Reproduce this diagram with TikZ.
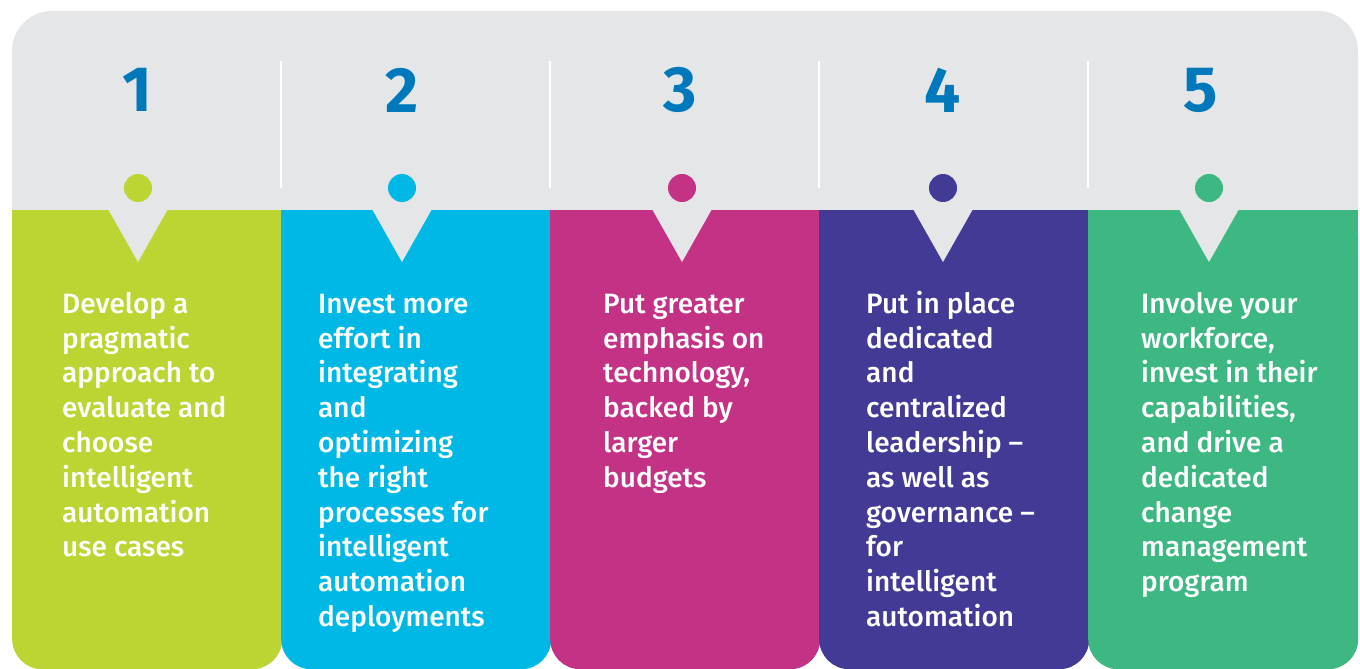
\documentclass[tikz,border=0pt]{standalone}
\usepackage{fontspec}
\setmainfont{Fira Sans}
\newfontfamily\medfont{Fira Sans Medium}[Ligatures=TeX]
\newcommand{\tstrut}{\rule{0pt}{24pt}}
\definecolor{bggray}{HTML}{E5E6E8}
\definecolor{cgreen}{HTML}{BCD532}
\definecolor{ccyan}{HTML}{00B8E5}
\definecolor{cmagenta}{HTML}{C43285}
\definecolor{cpurple}{HTML}{433A96}
\definecolor{cteal}{HTML}{3DB883}
\definecolor{numblue}{HTML}{0079BC}
\begin{document}
\begin{tikzpicture}[x=1pt,y=-1pt]
\useasboundingbox (0,0) rectangle (1360,669);
% grey header
\fill[bggray, rounded corners=40pt] (12,11) rectangle (1358,300);

\begin{scope}[every node/.style={rectangle,rounded corners=30pt,anchor=north west,inner sep=0pt,minimum width=270pt,minimum height=459pt}]
    \node[fill=cgreen]   (P1) at (12,210)   {};
    \node[fill=ccyan]    (P2) at (281,210)  {};
    \node[fill=cmagenta] (P3) at (550,210)  {};
    \node[fill=cpurple]  (P4) at (819,210)  {};
    \node[fill=cteal]    (P5) at (1088,210) {};
\end{scope}

% square off the top corners
\fill[cgreen]   (12,210)   rectangle (282,260);
\fill[ccyan]    (281,210)  rectangle (551,260);
\fill[cmagenta] (550,210)  rectangle (820,260);
\fill[cpurple]  (819,210)  rectangle (1089,260);
\fill[cteal]    (1088,210) rectangle (1358,260);

% notches
\foreach \x in {138,402,682,943,1209}
    \fill[bggray] (\x-30,209) -- (\x+30,209) -- (\x,262) -- cycle;

% dividers
\foreach \x in {281,550,819,1088}
    \draw[white, line width=2.2pt] (\x,61) -- (\x,188);

\begin{scope}[every node/.style={circle,inner sep=0pt,minimum size=28pt}]
    \node[fill=cgreen]   (D1) at (138,188)  {};
    \node[fill=ccyan]    (D2) at (402,188)  {};
    \node[fill=cmagenta] (D3) at (682,188)  {};
    \node[fill=cpurple]  (D4) at (943,188)  {};
    \node[fill=cteal]    (D5) at (1209,188) {};
\end{scope}

\begin{scope}[every node/.style={text=numblue,inner sep=0pt,font=\fontsize{64}{64}\selectfont\bfseries}]
    \node (N1) at (137,90)  {1};
    \node (N2) at (402,90)  {2};
    \node (N3) at (680,90)  {3};
    \node (N4) at (943,90)  {4};
    \node (N5) at (1201,90) {5};
\end{scope}

\begin{scope}[every node/.style={anchor=north west,inner sep=0pt,align=left,text=white,font=\medfont\fontsize{28}{34.8}\selectfont}]
    \node (T1) at (62,289)   {\tstrut Develop a\\pragmatic\\approach to\\evaluate and\\choose\\intelligent\\automation\\use cases};
    \node (T2) at (318,289)  {\tstrut Invest more\\effort in\\integrating\\and\\optimizing\\the right\\processes for\\intelligent\\automation\\deployments};
    \node (T3) at (603,289)  {\tstrut Put greater\\emphasis on\\technology,\\backed by\\larger\\budgets};
    \node (T4) at (866,289)  {\tstrut Put in place\\dedicated\\and\\centralized\\leadership –\\as well as\\governance –\\for\\intelligent\\automation};
    \node (T5) at (1141,289) {\tstrut Involve your\\workforce,\\invest in their\\capabilities,\\and drive a\\dedicated\\change\\management\\program};
\end{scope}
\end{tikzpicture}
\end{document}
